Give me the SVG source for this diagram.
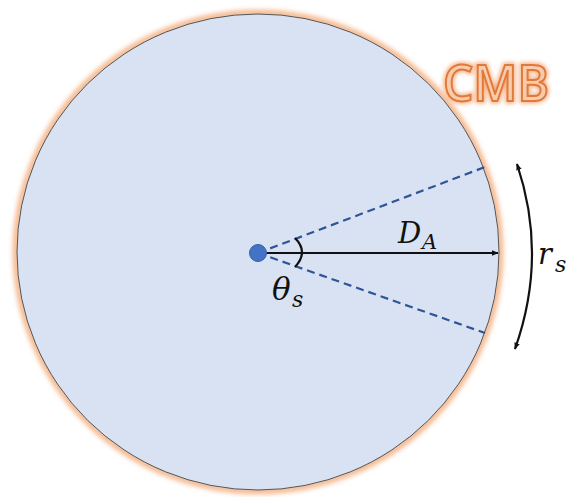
<svg xmlns="http://www.w3.org/2000/svg" width="577" height="497" viewBox="0 0 577 497">
<style>
.math{font-family:"DejaVu Serif","Liberation Serif",serif;font-style:italic;fill:#111}
.dash{stroke:#2F5597;stroke-width:2.2;stroke-dasharray:8,5;fill:none}
.cmb{font-family:"Open Sans","Liberation Sans",sans-serif;font-size:50px;font-weight:600}
</style>
<defs>
<filter id="glow" x="-20%" y="-20%" width="140%" height="140%"><feGaussianBlur stdDeviation="2.5"/></filter>
<filter id="tglow" x="-20%" y="-40%" width="140%" height="180%"><feGaussianBlur stdDeviation="2"/></filter>
<marker id="ah" viewBox="0 0 10 10" refX="9" refY="5" markerWidth="7" markerHeight="7" orient="auto-start-reverse" markerUnits="userSpaceOnUse"><path d="M0,1 L10,5 L0,9 z" fill="#111"/></marker>
</defs>
<rect width="577" height="497" fill="#fff"/>
<g id="cmb-sphere">
<ellipse cx="258" cy="252" rx="242" ry="239" fill="none" stroke="#F4B183" stroke-width="6" filter="url(#glow)"/>
<ellipse cx="258" cy="252" rx="241" ry="238" fill="#D9E2F2" stroke="#555" stroke-width="1"/>
</g>
<g id="cmb-label">
<text class="cmb" x="443" y="101" fill="none" stroke="#F4B183" stroke-width="5" filter="url(#tglow)" textLength="106" lengthAdjust="spacingAndGlyphs">CMB</text>
<text class="cmb" x="443" y="101" fill="#F8CBAD" stroke="#E0793A" stroke-width="2" textLength="106" lengthAdjust="spacingAndGlyphs">CMB</text>
</g>
<g id="connectors">
<line class="dash" x1="258" y1="253" x2="485" y2="167"/>
<line class="dash" x1="258" y1="253" x2="485" y2="333"/>
<line x1="258" y1="253" x2="498" y2="253" stroke="#111" stroke-width="2" marker-end="url(#ah)"/>
<path d="M295,238 Q309,252 295,267" fill="none" stroke="#111" stroke-width="2.2"/>
<path d="M517,164 Q548,256 515,349" fill="none" stroke="#111" stroke-width="2.2" marker-start="url(#ah)" marker-end="url(#ah)"/>
</g>
<g id="observer">
<circle cx="258" cy="253" r="8.5" fill="#4472C4" stroke="#3A62A8" stroke-width="1"/>
</g>
<g id="labels">
<text class="math" x="398" y="243" font-size="29">D</text>
<text class="math" x="422" y="249" font-size="21">A</text>
<text class="math" x="272" y="300" font-size="31">θ</text>
<text class="math" x="292" y="307" font-size="22">s</text>
<text class="math" x="538" y="264" font-size="29">r</text>
<text class="math" x="555" y="272" font-size="22">s</text>
</g>
</svg>
